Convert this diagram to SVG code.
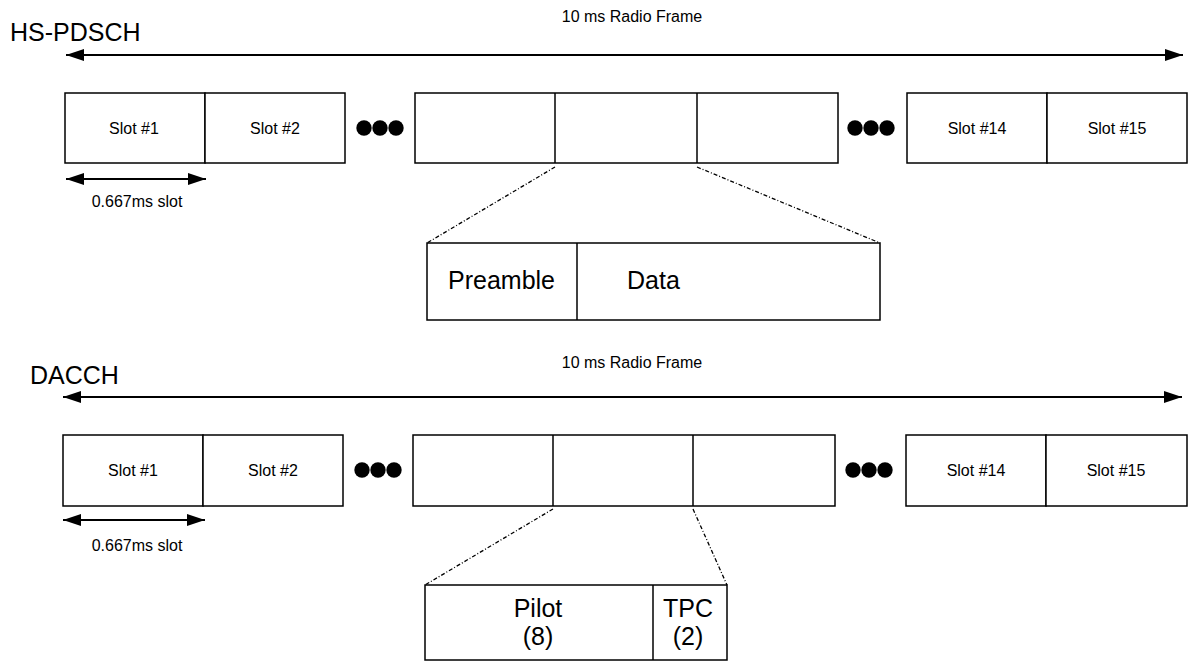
<svg xmlns="http://www.w3.org/2000/svg" width="1188" height="662" viewBox="0 0 1188 662">
<defs>
<marker id="ah" viewBox="0 0 18 12" refX="18" refY="6" markerWidth="18" markerHeight="12" markerUnits="userSpaceOnUse" orient="auto-start-reverse"><path d="M0,0 L18,6 L0,12 Z" fill="#000"/></marker>
<style>
.box{fill:#fff;stroke:#000;stroke-width:1.5}
.ln{stroke:#000;stroke-width:1.5;fill:none}
.arr{stroke:#000;stroke-width:2;fill:none;marker-start:url(#ah);marker-end:url(#ah)}
.dash{stroke:#000;stroke-width:1.3;fill:none;stroke-dasharray:4 2 1 2}
.s{font-family:"Liberation Sans",Arial,sans-serif;font-size:16px;text-anchor:middle;fill:#000}
.b{font-family:"Liberation Sans",Arial,sans-serif;font-size:25px;fill:#000}
.bm{font-family:"Liberation Sans",Arial,sans-serif;font-size:25px;text-anchor:middle;fill:#000}
.dot{fill:#000}
</style>
</defs>
<rect width="1188" height="662" fill="#fff"/>

<!-- Top: HS-PDSCH -->
<g id="hs-title"><text class="b" x="10" y="41">HS-PDSCH</text><text class="s" x="632" y="22">10 ms Radio Frame</text></g>
<g id="hs-slot1"><rect class="box" x="65" y="93" width="140" height="70"/><text class="s" x="134" y="134">Slot #1</text></g>
<g id="hs-slot2"><rect class="box" x="205" y="93" width="140" height="70"/><text class="s" x="275" y="134">Slot #2</text></g>
<g id="hs-dots1"><circle class="dot" cx="364" cy="128" r="7.7"/><circle class="dot" cx="380" cy="128" r="7.7"/><circle class="dot" cx="396" cy="128" r="7.7"/></g>
<g id="hs-mid"><rect class="box" x="415" y="93" width="423" height="70"/><line class="ln" x1="555" y1="93" x2="555" y2="163"/><line class="ln" x1="697" y1="93" x2="697" y2="163"/></g>
<g id="hs-dots2"><circle class="dot" cx="855" cy="128" r="7.7"/><circle class="dot" cx="871" cy="128" r="7.7"/><circle class="dot" cx="887" cy="128" r="7.7"/></g>
<g id="hs-slot14"><rect class="box" x="907" y="93" width="140" height="70"/><text class="s" x="977" y="134">Slot #14</text></g>
<g id="hs-slot15"><rect class="box" x="1047" y="93" width="140" height="70"/><text class="s" x="1117" y="134">Slot #15</text></g>
<g id="hs-slotlabel"><text class="s" x="137" y="207">0.667ms slot</text></g>
<g id="hs-detail"><rect class="box" x="427" y="243" width="453" height="77"/><line class="ln" x1="577" y1="243" x2="577" y2="320"/><text class="b" x="448" y="289">Preamble</text><text class="b" x="627" y="289">Data</text></g>

<!-- Bottom: DACCH -->
<g id="da-title"><text class="b" x="30" y="384">DACCH</text><text class="s" x="632" y="368">10 ms Radio Frame</text></g>
<g id="da-slot1"><rect class="box" x="63" y="435" width="140" height="71"/><text class="s" x="133" y="476">Slot #1</text></g>
<g id="da-slot2"><rect class="box" x="203" y="435" width="140" height="71"/><text class="s" x="273" y="476">Slot #2</text></g>
<g id="da-dots1"><circle class="dot" cx="362" cy="470" r="7.7"/><circle class="dot" cx="378" cy="470" r="7.7"/><circle class="dot" cx="394" cy="470" r="7.7"/></g>
<g id="da-mid"><rect class="box" x="413" y="435" width="422" height="71"/><line class="ln" x1="553" y1="435" x2="553" y2="506"/><line class="ln" x1="693" y1="435" x2="693" y2="506"/></g>
<g id="da-dots2"><circle class="dot" cx="853" cy="470" r="7.7"/><circle class="dot" cx="869" cy="470" r="7.7"/><circle class="dot" cx="885" cy="470" r="7.7"/></g>
<g id="da-slot14"><rect class="box" x="906" y="435" width="140" height="71"/><text class="s" x="976" y="476">Slot #14</text></g>
<g id="da-slot15"><rect class="box" x="1046" y="435" width="141" height="71"/><text class="s" x="1116" y="476">Slot #15</text></g>
<g id="da-slotlabel"><text class="s" x="137" y="551">0.667ms slot</text></g>
<g id="da-detail"><rect class="box" x="425" y="585" width="302" height="75"/><line class="ln" x1="653" y1="585" x2="653" y2="660"/><text class="bm" x="538" y="617">Pilot</text><text class="bm" x="538" y="645">(8)</text><text class="bm" x="688" y="617">TPC</text><text class="bm" x="688" y="645">(2)</text></g>

<!-- Connectors -->
<g id="connectors">
<line class="arr" x1="66" y1="55" x2="1183" y2="55"/>
<line class="arr" x1="66" y1="179" x2="206" y2="179"/>
<line class="dash" x1="555" y1="167" x2="427" y2="243"/>
<line class="dash" x1="697" y1="167" x2="880" y2="243"/>
<line class="arr" x1="63" y1="397" x2="1182" y2="397"/>
<line class="arr" x1="63" y1="520" x2="205" y2="520"/>
<line class="dash" x1="553" y1="509" x2="425" y2="585"/>
<line class="dash" x1="693" y1="509" x2="727" y2="585"/>
</g>
</svg>
